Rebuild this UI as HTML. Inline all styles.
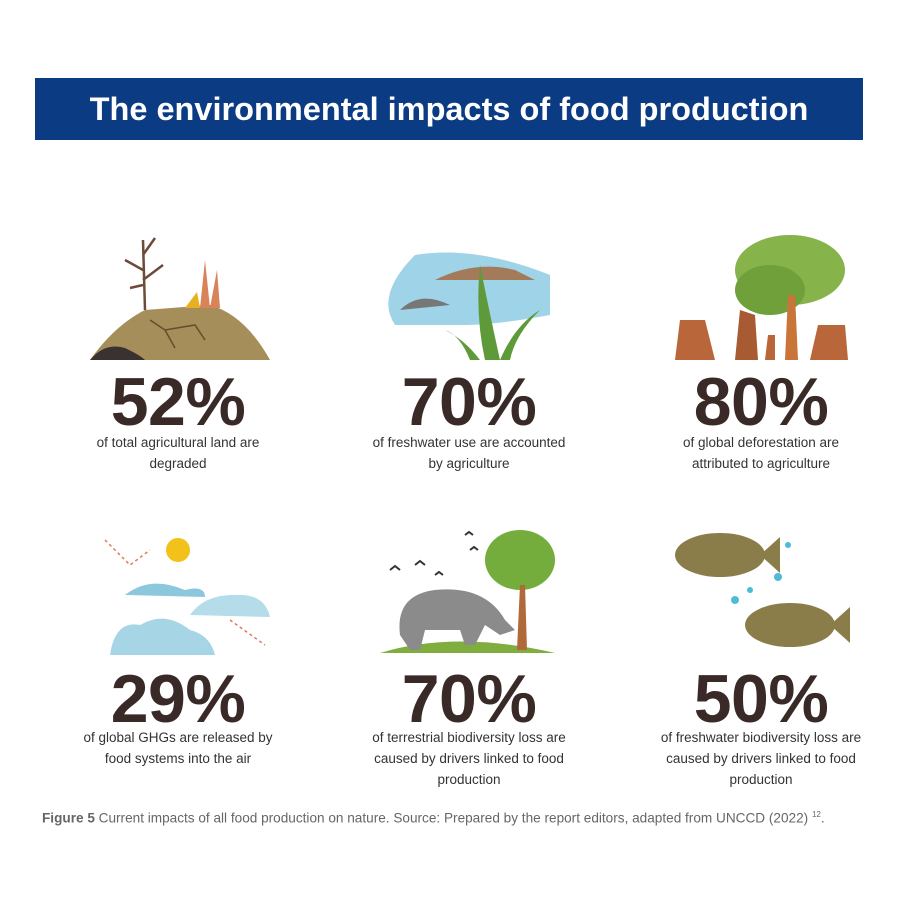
<!DOCTYPE html>
<html><head><meta charset="utf-8"><style>
body{margin:0;width:900px;height:900px;background:#fff;position:relative;font-family:"Liberation Sans",Arial,sans-serif;overflow:hidden}
.bar{position:absolute;left:35px;top:78px;width:828px;height:62px;background:#0b3b82;color:#fff;font-weight:bold;font-size:32.5px;text-align:center;line-height:62px}
.num{position:absolute;width:300px;text-align:center;font-weight:bold;font-size:68px;color:#3a2a27;line-height:66px;letter-spacing:-0.5px}
.txt{position:absolute;width:300px;text-align:center;font-size:13.5px;color:#333;line-height:21px}
.cap{position:absolute;left:42px;top:810px;font-size:13.6px;color:#666}
svg{position:absolute}
</style></head><body>
<div class="bar">The environmental impacts of food production</div>

<svg style="left:85px;top:230px" width="190" height="135">
<path d="M5 130 Q30 95 60 80 L125 75 Q160 85 185 130Z" fill="#a58e5a"/>
<path d="M5 130 Q20 112 40 118 Q55 125 60 130Z" fill="#3a3230"/>
<path d="M65 90 L80 100 L110 95 L120 110 M80 100 L90 118" stroke="#6b4a2a" fill="none" stroke-width="1.5"/>
<path d="M60 80 L58 10 M58 40 L40 30 M58 25 L70 8 M58 55 L45 58 M58 50 L78 35" stroke="#6e4a3a" stroke-width="2.5" fill="none"/>
<path d="M115 78 L120 30 L125 78 L132 40 L135 78Z" fill="#d9835a"/>
<path d="M100 78 L112 62 L115 78Z" fill="#e8b020"/>
</svg>

<svg style="left:375px;top:235px" width="190" height="130">
<path d="M40 20 Q100 10 175 40 L175 80 Q120 90 90 90 L20 90 Q0 60 40 20Z" fill="#9fd3e8"/>
<path d="M60 45 Q100 25 140 35 L160 45Z" fill="#a47b5a"/>
<path d="M25 75 Q45 55 75 70Z" fill="#777"/>
<path d="M110 125 Q100 80 105 30 Q115 80 125 125Z M125 125 Q140 90 165 75 Q140 100 135 125Z M95 125 Q85 100 70 95 Q90 105 105 125Z" fill="#5f9a3a"/>
</svg>

<svg style="left:670px;top:235px" width="190" height="130">
<ellipse cx="120" cy="35" rx="55" ry="35" fill="#86b34a"/>
<ellipse cx="100" cy="55" rx="35" ry="25" fill="#6fa03a"/>
<path d="M115 125 L118 60 L125 60 L128 125Z" fill="#c9753a"/>
<path d="M5 125 L10 85 L35 85 L45 125Z" fill="#b8663a"/>
<path d="M65 125 L70 75 L85 80 L88 125Z" fill="#a85a33"/>
<path d="M95 125 L98 100 L105 100 L105 125Z" fill="#b8663a"/>
<path d="M140 125 L148 90 L175 90 L178 125Z" fill="#b8663a"/>
</svg>

<svg style="left:90px;top:525px" width="190" height="130">
<circle cx="88" cy="25" r="12" fill="#f2c21a"/>
<path d="M20 130 Q25 95 50 100 Q75 85 100 105 Q120 110 125 130Z" fill="#a6d6e6"/>
<path d="M35 70 Q60 50 95 65 Q115 60 115 72Z" fill="#8cc8dd"/>
<path d="M100 90 Q115 68 150 70 Q175 70 180 92Z" fill="#b4dce9"/>
<path d="M15 15 L40 40 L60 25 M140 95 L175 120" stroke="#e07860" stroke-dasharray="3 3" fill="none" stroke-width="1.5"/>
</svg>

<svg style="left:375px;top:525px" width="190" height="130">
<path d="M5 128 Q80 105 180 128Z" fill="#7fad3e"/>
<ellipse cx="145" cy="35" rx="35" ry="30" fill="#74ad3c"/>
<path d="M142 125 L145 60 L150 60 L152 125Z" fill="#b06a3a"/>
<path d="M25 110 Q20 70 60 65 Q110 60 130 95 L140 105 L125 110 L110 100 L100 120 L90 120 L85 105 L50 105 L45 125 L35 125Z" fill="#8b8b8b"/>
<path d="M15 45 l5 -4 l5 4 M40 40 l5 -4 l5 4 M60 50 l4 -3 l4 3 M95 25 l4 -3 l4 3 M90 10 l4 -3 l4 3" stroke="#333" fill="none" stroke-width="2"/>
</svg>

<svg style="left:660px;top:525px" width="200" height="130">
<ellipse cx="60" cy="30" rx="45" ry="22" fill="#8a7d4a"/>
<path d="M100 30 L120 12 L120 48Z" fill="#8a7d4a"/>
<ellipse cx="130" cy="100" rx="45" ry="22" fill="#8a7d4a"/>
<path d="M170 100 L190 82 L190 118Z" fill="#8a7d4a"/>
<circle cx="118" cy="52" r="4" fill="#4dbcd8"/><circle cx="128" cy="20" r="3" fill="#4dbcd8"/><circle cx="75" cy="75" r="4" fill="#4dbcd8"/><circle cx="90" cy="65" r="3" fill="#4dbcd8"/>
</svg>

<div class="num" style="left:28px;top:369px">52%</div>
<div class="txt" style="left:28px;top:432px">of total agricultural land are<br>degraded</div>
<div class="num" style="left:319px;top:369px">70%</div>
<div class="txt" style="left:319px;top:432px">of freshwater use are accounted<br>by agriculture</div>
<div class="num" style="left:611px;top:369px">80%</div>
<div class="txt" style="left:611px;top:432px">of global deforestation are<br>attributed to agriculture</div>

<div class="num" style="left:28px;top:666px">29%</div>
<div class="txt" style="left:28px;top:727px">of global GHGs are released by<br>food systems into the air</div>
<div class="num" style="left:319px;top:666px">70%</div>
<div class="txt" style="left:319px;top:727px">of terrestrial biodiversity loss are<br>caused by drivers linked to food<br>production</div>
<div class="num" style="left:611px;top:666px">50%</div>
<div class="txt" style="left:611px;top:727px">of freshwater biodiversity loss are<br>caused by drivers linked to food<br>production</div>

<div class="cap"><b>Figure 5</b> Current impacts of all food production on nature. Source: Prepared by the report editors, adapted from UNCCD (2022) <sup style="font-size:8px">12</sup>.</div>
</body></html>
